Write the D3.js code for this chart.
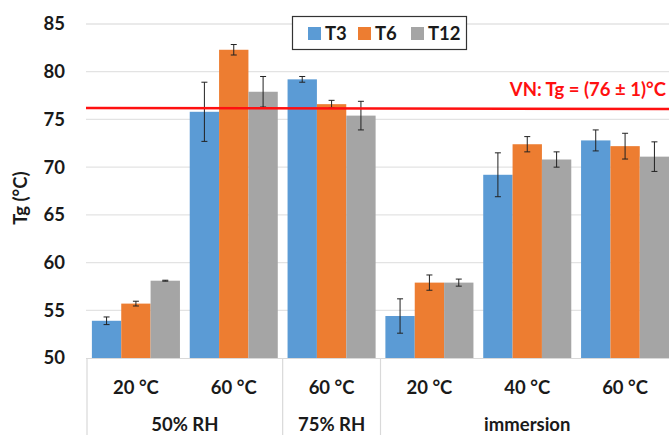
<!DOCTYPE html>
<html><head><meta charset="utf-8">
<script src="https://cdn.jsdelivr.net/npm/d3@7"></script>
<style>body{margin:0;background:#fff}svg{display:block}text{font-family:Lato,"Open Sans",sans-serif;font-weight:bold}</style>
</head><body>
<svg id="c" width="669" height="435"></svg>
<script>
const categories = ["20 °C","60 °C","60 °C","20 °C","40 °C","60 °C"];
const groups = [{name:"50% RH",from:0,to:1},{name:"75% RH",from:2,to:2},{name:"immersion",from:3,to:5}];
const seriesNames = ["T3","T6","T12"];
const colors = ["#5B9BD5","#ED7D31","#A5A5A5"];
const T3 = [53.9,75.8,79.2,54.4,69.2,72.8];
const T6 = [55.7,82.3,76.6,57.9,72.4,72.2];
const T12 = [58.1,77.9,75.4,57.9,70.8,71.1];
const T3err = [0.4,3.1,0.3,1.8,2.3,1.1];
const T6err = [0.25,0.55,0.4,0.8,0.8,1.35];
const T12err = [0.05,1.6,1.5,0.37,0.8,1.55];
const yTicks = [50,55,60,65,70,75,80,85];
const refValue = 76.2;
const refLabel = "VN: Tg = (76 ± 1)°C";

const FS = 18.5;
const svg = d3.select("#c");
const vals = [T3,T6,T12], errs=[T3err,T6err,T12err];
const y = d3.scaleLinear().domain([50,85]).range([358,24]);
const x = d3.scaleBand().domain(d3.range(categories.length)).range([87,674]).paddingInner(0.1).paddingOuter(0.05);
const xs = d3.scaleBand().domain(d3.range(3)).range([0,x.bandwidth()]);

// gridlines
svg.append("g").selectAll("line").data(yTicks.slice(1)).join("line")
  .attr("x1",86).attr("x2",669).attr("y1",d=>y(d)).attr("y2",d=>y(d))
  .attr("stroke","#E3E3E3").attr("stroke-width",1.3);
// y tick labels
svg.append("g").selectAll("text").data(yTicks).join("text")
  .attr("x",65).attr("y",d=>y(d)).attr("dy","0.35em").attr("text-anchor","end")
  .attr("font-size",FS).attr("fill","#1a1a1a").text(d=>d);
// y label
svg.append("text").attr("transform","translate(27,198) rotate(-90)").attr("text-anchor","middle")
  .attr("font-size",FS).attr("fill","#1a1a1a").text("Tg (°C)");

// bars
const g = svg.append("g");
categories.forEach((c,i)=>{
  vals.forEach((s,k)=>{
    const bx = x(i)+xs(k);
    g.append("rect").attr("x",bx).attr("y",y(s[i])).attr("width",xs.bandwidth()).attr("height",y(50)-y(s[i])).attr("fill",colors[k]);
  });
});
// error bars
categories.forEach((c,i)=>{
  vals.forEach((s,k)=>{
    const cx = x(i)+xs(k)+xs.bandwidth()/2;
    const e = errs[k][i];
    const eg = g.append("g").attr("stroke","#222").attr("stroke-width",1);
    eg.append("line").attr("x1",cx).attr("x2",cx).attr("y1",y(s[i]+e)).attr("y2",y(s[i]-e));
    eg.append("line").attr("x1",cx-3).attr("x2",cx+3).attr("y1",y(s[i]+e)).attr("y2",y(s[i]+e));
    eg.append("line").attr("x1",cx-3).attr("x2",cx+3).attr("y1",y(s[i]-e)).attr("y2",y(s[i]-e));
  });
});

// x axis line
svg.append("line").attr("x1",86).attr("x2",669).attr("y1",y(50)+0.5).attr("y2",y(50)+0.5).attr("stroke","#D9D9D9").attr("stroke-width",1.2);
// group separators
const sepX = [x(0)-x.step()*x.paddingOuter()];
groups.forEach(gr=>{ sepX.push(x(gr.to)+x.bandwidth()+x.step()*x.paddingInner()/2); });
svg.append("g").selectAll("line").data(sepX.slice(0,3)).join("line")
  .attr("x1",d=>d).attr("x2",d=>d).attr("y1",y(50)).attr("y2",435)
  .attr("stroke","#D9D9D9").attr("stroke-width",1.2);
// category labels
svg.append("g").selectAll("text").data(categories).join("text")
  .attr("x",(d,i)=>x(i)+x.bandwidth()/2).attr("y",388).attr("dy","0.35em").attr("text-anchor","middle")
  .attr("font-size",FS).attr("fill","#1a1a1a").text(d=>d);
// group labels
svg.append("g").selectAll("text").data(groups).join("text")
  .attr("x",d=>(x(d.from)+x(d.to)+x.bandwidth())/2).attr("y",424.5).attr("dy","0.35em").attr("text-anchor","middle")
  .attr("font-size",FS).attr("fill","#1a1a1a").text(d=>d.name);

// reference line
svg.append("line").attr("x1",86).attr("x2",669).attr("y1",y(refValue)).attr("y2",y(refValue)+1)
  .attr("stroke","#FF1010").attr("stroke-width",2.5);
svg.append("text").attr("x",666).attr("y",90).attr("dy","0.35em").attr("text-anchor","end")
  .attr("font-size",FS).attr("fill","#FF1010").text(refLabel);

// legend
const lg = svg.append("g");
lg.append("rect").attr("x",292.5).attr("y",16.5).attr("width",174).attr("height",33).attr("fill","#fff").attr("stroke","#333").attr("stroke-width",1.2);
const lx = [308,358,411];
seriesNames.forEach((n,k)=>{
  lg.append("rect").attr("x",lx[k]).attr("y",27).attr("width",13).attr("height",13).attr("fill",colors[k]);
  lg.append("text").attr("x",lx[k]+17).attr("y",33.5).attr("dy","0.35em").attr("font-size",FS).attr("fill","#1a1a1a").text(n);
});
</script>
</body></html>
